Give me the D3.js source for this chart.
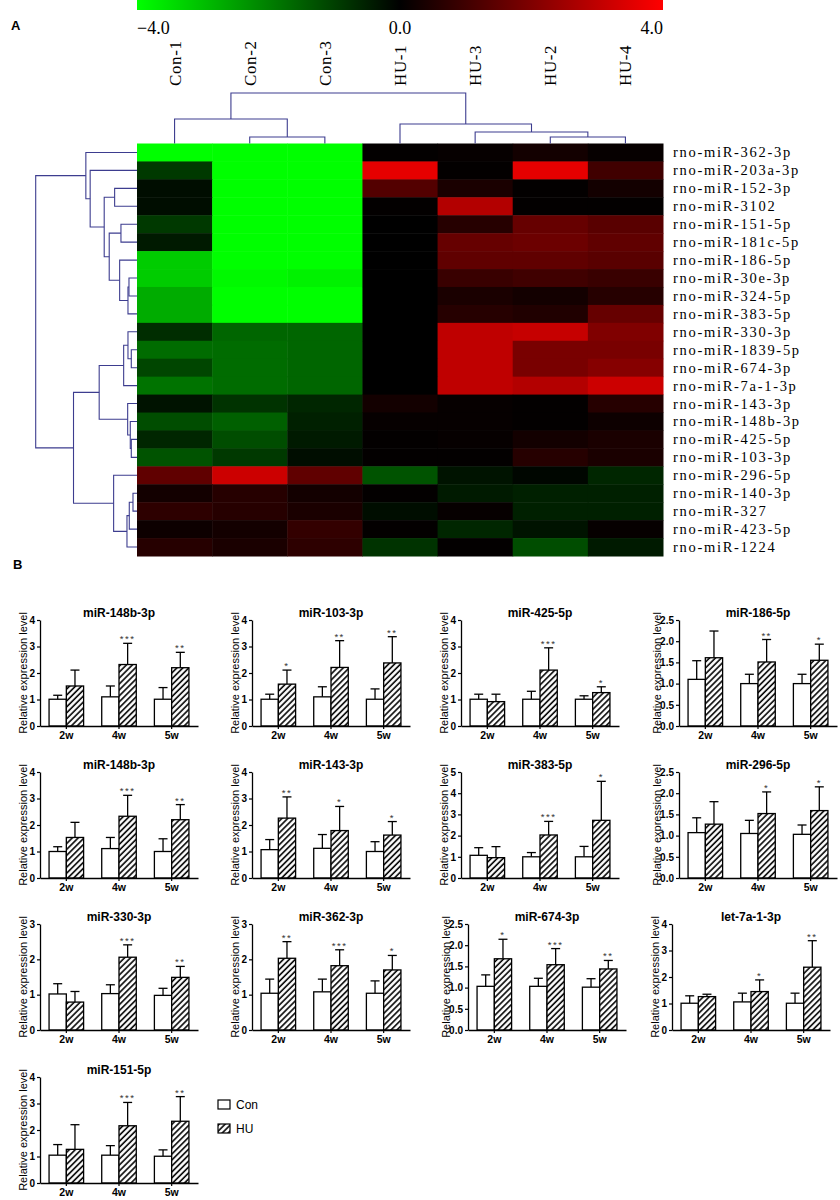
<!DOCTYPE html>
<html>
<head>
<meta charset="utf-8">
<script src="https://cdn.jsdelivr.net/npm/d3@7/dist/d3.min.js"></script>
<style>
body { margin: 0; background: #fff; }
</style>
</head>
<body>
<div id="graphicContainer"></div>
<script>
// ---- panel A : heatmap ----
var samples = ["Con-1", "Con-2", "Con-3", "HU-1", "HU-3", "HU-2", "HU-4"];
var mirnas = ["rno-miR-362-3p", "rno-miR-203a-3p", "rno-miR-152-3p", "rno-miR-3102", "rno-miR-151-5p",
	"rno-miR-181c-5p", "rno-miR-186-5p", "rno-miR-30e-3p", "rno-miR-324-5p", "rno-miR-383-5p",
	"rno-miR-330-3p", "rno-miR-1839-5p", "rno-miR-674-3p", "rno-miR-7a-1-3p", "rno-miR-143-3p",
	"rno-miR-148b-3p", "rno-miR-425-5p", "rno-miR-103-3p", "rno-miR-296-5p", "rno-miR-140-3p",
	"rno-miR-327", "rno-miR-423-5p", "rno-miR-1224"];
// one row per miRNA, columns follow samples
var expr = [
	[-4.0, -4.0, -4.0, 0.05, 0.1, 0.3, 0.1],
	[-0.9, -4.0, -4.0, 3.6, 0.05, 3.6, 1.0],
	[-0.2, -4.0, -4.0, 1.3, 0.4, 0.05, 0.3],
	[-0.2, -4.0, -4.0, 0.05, 2.8, 0.05, 0.05],
	[-0.9, -4.0, -4.0, 0.0, 0.6, 1.6, 1.4],
	[-0.4, -4.0, -4.0, 0.0, 1.6, 1.7, 1.5],
	[-3.2, -4.0, -4.0, 0.0, 1.5, 1.5, 1.4],
	[-3.2, -3.9, -3.8, 0.0, 0.9, 1.0, 0.9],
	[-2.7, -4.0, -4.0, 0.0, 0.4, 0.3, 0.6],
	[-2.7, -4.0, -4.0, 0.0, 0.6, 0.5, 1.6],
	[-0.7, -1.6, -1.6, 0.0, 3.0, 3.1, 2.0],
	[-1.7, -1.7, -1.6, 0.0, 3.0, 1.9, 1.9],
	[-1.1, -1.7, -1.6, 0.0, 3.0, 1.9, 2.1],
	[-1.8, -1.7, -1.6, 0.0, 3.0, 2.8, 3.2],
	[-0.3, -0.8, -0.6, 0.3, 0.1, 0.05, 0.6],
	[-1.2, -1.5, -0.5, 0.1, 0.1, 0.05, 0.2],
	[-0.6, -1.2, -0.4, 0.05, 0.1, 0.3, 0.4],
	[-1.3, -0.9, -0.2, 0.05, 0.05, 0.6, 0.4],
	[1.5, 3.2, 1.5, -1.3, -0.3, -0.1, -0.6],
	[0.3, 0.6, 0.3, 0.05, -0.4, -0.5, -0.5],
	[0.7, 0.6, 0.4, -0.2, 0.1, -0.5, -0.5],
	[0.2, 0.3, 0.8, 0.05, -0.6, -0.3, 0.1],
	[0.6, 0.4, 0.7, -0.8, 0.05, -1.2, -0.4]
];
var colorTicks = [-4, 0, 4];
// clustering trees: [height, left, right], leaves are row / column indices
var rowTree = [101,
	[51, 0, [46.7, 1, [32.7, [22.3, 2, 3], [27.7, [16, 4, 5], [17.3, 6, [9, [8, 7, 8], 9]]]]]],
	[63.3, [37.7, [13.3, [9, 10, [5.7, 11, 12]], 13], [9.3, 14, [6.7, 15, [5.7, 16, 17]]]],
		[23.3, 18, [10, [7.7, [4, 19, 20], 21], 22]]]];
var colTree = [50.5, [24.5, 0, [6.5, 1, 2]], [19.5, 3, [11.5, 4, [6.5, 5, 6]]]];

// ---- panel B : qPCR bars ----
var weeks = ["2w", "4w", "5w"];
var groups = ["Con", "HU"];
var barGenes = ["miR-148b-3p", "miR-103-3p", "miR-425-5p", "miR-186-5p",
	"miR-148b-3p", "miR-143-3p", "miR-383-5p", "miR-296-5p",
	"miR-330-3p", "miR-362-3p", "miR-674-3p", "let-7a-1-3p", "miR-151-5p"];
var yMax = [4, 4, 4, 2.5, 4, 4, 5, 2.5, 3, 3, 2.5, 4, 4];
var conMean = [
	[1.01, 1.10, 1.01], [1.01, 1.10, 1.01], [1.01, 1.01, 1.01], [1.10, 1.00, 1.00],
	[1.00, 1.11, 1.00], [1.07, 1.12, 1.00], [1.07, 1.00, 1.00], [1.07, 1.05, 1.03],
	[1.02, 1.03, 0.98], [1.04, 1.08, 1.04], [1.03, 1.03, 1.01], [1.01, 1.06, 1.01],
	[1.05, 1.05, 1.01]];
var conErr = [
	[0.15, 0.41, 0.44], [0.19, 0.38, 0.39], [0.19, 0.30, 0.13], [0.44, 0.22, 0.22],
	[0.18, 0.42, 0.48], [0.38, 0.52, 0.37], [0.36, 0.20, 0.49], [0.35, 0.31, 0.22],
	[0.29, 0.25, 0.20], [0.40, 0.36, 0.35], [0.27, 0.19, 0.20], [0.28, 0.33, 0.38],
	[0.40, 0.36, 0.24]];
var huMean = [
	[1.51, 2.32, 2.20], [1.58, 2.21, 2.38], [0.92, 2.11, 1.26], [1.61, 1.51, 1.55],
	[1.53, 2.33, 2.20], [2.26, 1.79, 1.62], [0.96, 2.03, 2.72], [1.27, 1.52, 1.59],
	[0.79, 2.06, 1.49], [2.03, 1.82, 1.70], [1.68, 1.54, 1.44], [1.26, 1.45, 2.37],
	[1.27, 2.16, 2.33]];
var huErr = [
	[0.60, 0.80, 0.58], [0.53, 1.01, 0.99], [0.28, 0.84, 0.22], [0.63, 0.53, 0.38],
	[0.57, 0.79, 0.57], [0.80, 0.91, 0.51], [0.52, 0.64, 1.84], [0.53, 0.51, 0.56],
	[0.30, 0.35, 0.31], [0.47, 0.45, 0.41], [0.46, 0.38, 0.20], [0.09, 0.44, 1.00],
	[0.93, 0.88, 0.93]];
var sig = [
	["", "***", "**"], ["*", "**", "**"], ["", "***", "*"], ["", "**", "*"],
	["", "***", "**"], ["**", "*", "*"], ["", "***", "*"], ["", "*", "*"],
	["", "***", "**"], ["**", "***", "*"], ["*", "***", "**"], ["", "*", "**"],
	["", "***", "**"]];

function makeFigure() {

	var width = 840, height = 1200;
	var serif = "'Liberation Serif', 'Times New Roman', serif";
	var sans = "'Liberation Sans', Arial, sans-serif";
	var treeColor = "#3d3d8f";

	d3.select("#graphicContainer svg").remove();

	var svg = d3.select("#graphicContainer").append("svg")
		.attr("width", width)
		.attr("height", height);

	var defs = svg.append("defs");

	// ===================== A =====================
	var color = d3.scaleLinear()
		.domain([-4, 0, 4])
		.range(["#00ff00", "#000000", "#ff0000"])
		.clamp(true);

	var xh = d3.scaleBand().domain(samples).range([137, 663]);
	var yh = d3.scaleBand().domain(mirnas).range([143.5, 556]);

	// colour key
	var grad = defs.append("linearGradient").attr("id", "cbar");
	grad.selectAll("stop")
		.data(colorTicks)
		.enter().append("stop")
		.attr("offset", (d, i) => (i / (colorTicks.length - 1) * 100) + "%")
		.attr("stop-color", d => color(d));

	var cx = d3.scaleLinear().domain([-4, 4]).range([137, 663]);

	svg.append("rect")
		.attr("x", cx(-4)).attr("y", 0)
		.attr("width", cx(4) - cx(-4)).attr("height", 10)
		.attr("fill", "url(#cbar)");

	svg.append("g").selectAll("text")
		.data(colorTicks)
		.enter().append("text")
		.attr("x", d => cx(d))
		.attr("y", 34)
		.attr("text-anchor", (d, i) => i == 0 ? "start" : (i == colorTicks.length - 1 ? "end" : "middle"))
		.style("font-family", serif)
		.style("font-size", "18px")
		.text(d => d3.format(".1f")(d));

	svg.append("text")
		.attr("x", 11).attr("y", 30)
		.style("font-family", sans).style("font-weight", "bold").style("font-size", "13px")
		.text("A");

	// sample labels
	svg.append("g").selectAll("text")
		.data(samples)
		.enter().append("text")
		.attr("transform", d => "translate(" + (xh(d) + xh.bandwidth() / 2) + ",86) rotate(-90)")
		.attr("dy", "0.35em")
		.style("font-family", serif)
		.style("font-size", "17px")
		.style("letter-spacing", "0.6px")
		.text(d => d);

	// cells
	var cells = [];
	expr.forEach((row, r) => {
		row.forEach((v, c) => {
			cells.push({ r: mirnas[r], c: samples[c], v: v });
		});
	});

	svg.append("g").selectAll("rect")
		.data(cells)
		.enter().append("rect")
		.attr("x", d => xh(d.c))
		.attr("y", d => yh(d.r))
		.attr("width", xh.bandwidth() + 0.5)
		.attr("height", yh.bandwidth() + 0.5)
		.attr("fill", d => color(d.v));

	// miRNA labels
	svg.append("g").selectAll("text")
		.data(mirnas)
		.enter().append("text")
		.attr("x", 673)
		.attr("y", d => yh(d) + yh.bandwidth() / 2 + 5)
		.style("font-family", serif)
		.style("font-size", "14.5px")
		.style("letter-spacing", "1.7px")
		.text(d => d);

	// dendrograms
	var rowH = d3.scaleLinear().domain([0, 101]).range([137, 35.7]);
	var colH = d3.scaleLinear().domain([0, 50.5]).range([143.5, 93]);

	var treeG = svg.append("g")
		.attr("fill", "none")
		.attr("stroke", treeColor)
		.attr("stroke-width", 1.1);

	function drawTree(node, leafPos, hs, isRow) {
		if (typeof node === "number") {
			return { p: leafPos(node), h: hs(0) };
		}
		var a = drawTree(node[1], leafPos, hs, isRow);
		var b = drawTree(node[2], leafPos, hs, isRow);
		var h = hs(node[0]);
		var d = isRow
			? "M" + a.h + "," + a.p + "H" + h + "V" + b.p + "H" + b.h
			: "M" + a.p + "," + a.h + "V" + h + "H" + b.p + "V" + b.h;
		treeG.append("path").attr("d", d);
		return { p: (a.p + b.p) / 2, h: h };
	}

	drawTree(rowTree, i => yh(mirnas[i]) + yh.bandwidth() / 2, rowH, true);
	drawTree(colTree, i => xh(samples[i]) + xh.bandwidth() / 2, colH, false);

	// ===================== B =====================
	svg.append("text")
		.attr("x", 13).attr("y", 569)
		.style("font-family", sans).style("font-weight", "bold").style("font-size", "13px")
		.text("B");

	var hatch = defs.append("pattern")
		.attr("id", "hatch")
		.attr("patternUnits", "userSpaceOnUse")
		.attr("width", 4.2).attr("height", 4.2)
		.attr("patternTransform", "rotate(45)");
	hatch.append("rect").attr("width", 4.2).attr("height", 4.2).attr("fill", "#fff");
	hatch.append("line")
		.attr("x1", 1).attr("y1", 0).attr("x2", 1).attr("y2", 4.2)
		.attr("stroke", "#000").attr("stroke-width", 1.6);

	var colX = [40, 252, 461, 672];
	var rowTop = [620, 772, 924, 1077];
	var plotW = 158, plotH = 106;

	function drawPanel(i) {
		var dec = yMax[i] % 1 != 0;
		var ox = colX[i % 4] + (dec ? 7 : 0);
		var top = rowTop[Math.floor(i / 4)];

		var x = d3.scaleBand().domain(weeks).range([ox, ox + plotW])
			.paddingInner(0.344).paddingOuter(0.172);
		var sub = d3.scaleBand().domain(groups).range([0, x.bandwidth()]);
		var y = d3.scaleLinear().domain([0, yMax[i]]).range([top + plotH, top]);

		var g = svg.append("g").style("font-family", sans);

		var rows = weeks.map((w, k) => [
			{ w: w, grp: "Con", m: conMean[i][k], e: conErr[i][k], s: "" },
			{ w: w, grp: "HU", m: huMean[i][k], e: huErr[i][k], s: sig[i][k] }
		]).flat();

		// error bars first, bars on top
		var eb = g.append("g").attr("stroke", "#000").attr("stroke-width", 1.3);
		eb.selectAll("line.v")
			.data(rows).enter().append("line")
			.attr("x1", d => x(d.w) + sub(d.grp) + sub.bandwidth() / 2)
			.attr("x2", d => x(d.w) + sub(d.grp) + sub.bandwidth() / 2)
			.attr("y1", d => y(d.m))
			.attr("y2", d => y(d.m + d.e));
		eb.selectAll("line.cap")
			.data(rows).enter().append("line")
			.attr("x1", d => x(d.w) + sub(d.grp) + sub.bandwidth() / 2 - 4.5)
			.attr("x2", d => x(d.w) + sub(d.grp) + sub.bandwidth() / 2 + 4.5)
			.attr("y1", d => y(d.m + d.e))
			.attr("y2", d => y(d.m + d.e));

		g.append("g").selectAll("rect")
			.data(rows).enter().append("rect")
			.attr("x", d => x(d.w) + sub(d.grp))
			.attr("y", d => y(d.m))
			.attr("width", sub.bandwidth())
			.attr("height", d => y(0) - y(d.m))
			.attr("fill", d => d.grp == "HU" ? "url(#hatch)" : "#fff")
			.attr("stroke", "#000")
			.attr("stroke-width", 1.3);

		g.append("g").selectAll("text")
			.data(rows.filter(d => d.s != "")).enter().append("text")
			.attr("x", d => x(d.w) + sub(d.grp) + sub.bandwidth() / 2)
			.attr("y", d => y(d.m + d.e) - 1)
			.attr("text-anchor", "middle")
			.style("font-size", "9.5px")
			.style("letter-spacing", "1.5px")
			.attr("fill", "#333")
			.text(d => d.s);

		var step = dec ? 0.5 : 1;
		var yAxis = g.append("g")
			.attr("transform", "translate(" + ox + ",0)")
			.call(d3.axisLeft(y)
				.tickValues(d3.range(0, yMax[i] + 0.001, step))
				.tickFormat(dec ? d3.format(".1f") : d3.format("d"))
				.tickSize(3).tickSizeOuter(0).tickPadding(2));

		var xAxis = g.append("g")
			.attr("transform", "translate(0," + (top + plotH) + ")")
			.call(d3.axisBottom(x).tickSize(3).tickSizeOuter(0).tickPadding(3));

		[yAxis, xAxis].forEach(a => {
			a.select(".domain").attr("stroke-width", 1.3);
			a.selectAll(".tick line").attr("stroke-width", 1.2);
			a.selectAll("text")
				.style("font-family", sans)
				.style("font-weight", "bold")
				.attr("fill", "#000");
		});
		yAxis.selectAll("text").style("font-size", "10px");
		xAxis.selectAll("text").style("font-size", "10.5px");

		g.append("text")
			.attr("transform", "translate(" + (ox - (dec ? 18 : 13)) + "," + (top + plotH / 2) + ") rotate(-90)")
			.attr("text-anchor", "middle")
			.style("font-size", "11px")
			.text("Relative expression level");

		g.append("text")
			.attr("x", ox + plotW / 2)
			.attr("y", top - 3)
			.attr("text-anchor", "middle")
			.style("font-size", "12px")
			.style("font-weight", "bold")
			.text(barGenes[i]);
	}

	barGenes.forEach((d, i) => drawPanel(i));

	// legend
	var legend = svg.append("g")
		.attr("transform", "translate(218,1100)")
		.style("font-family", sans);

	var items = legend.selectAll("g")
		.data(groups)
		.enter().append("g")
		.attr("transform", (d, i) => "translate(0," + (i * 24) + ")");

	items.append("rect")
		.attr("width", 12).attr("height", 9)
		.attr("fill", d => d == "HU" ? "url(#hatch)" : "#fff")
		.attr("stroke", "#000")
		.attr("stroke-width", 1.2);

	items.append("text")
		.attr("x", 18).attr("y", 4.5)
		.attr("dy", "0.35em")
		.style("font-size", "12px")
		.text(d => d);
}

makeFigure();
</script>
</body>
</html>
